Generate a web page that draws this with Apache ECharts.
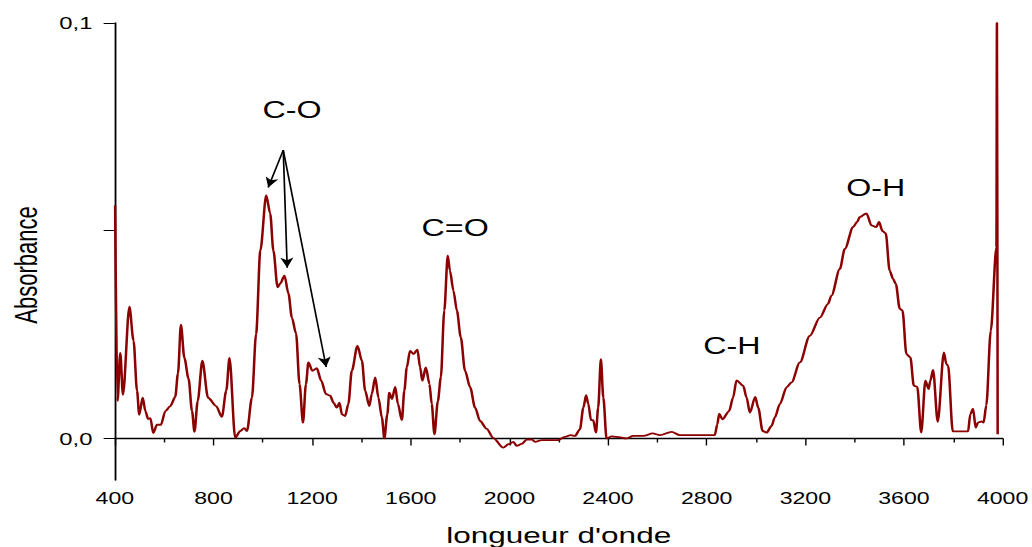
<!DOCTYPE html>
<html>
<head>
<meta charset="utf-8">
<script src="https://cdn.jsdelivr.net/npm/echarts@6/dist/echarts.min.js"></script>
<style>
  html, body { margin: 0; padding: 0; background: #fff; overflow: hidden; }
  /* the original picture is stretched horizontally, so the chart is drawn narrow and widened */
  #chart { position: absolute; left: 0; top: 0; width: 737px; height: 547px; transform: scaleX(1.40027); transform-origin: 0 0; }
</style>
</head>
<body>
<div id="chart"></div>
<script>
const wavenumber = [401,411,422,433,459,476,490,499,513,524,
  535,544,556,571,587,605,625,645,656,668,
  682,699,713,723,736,755,778,811,834,852,
  865,888,909,925,936,956,973,990,1014,1030,
  1043,1060,1071,1088,1104,1118,1135,1149,1163,1175,
  1185,1201,1219,1237,1256,1273,1287,1300,1311,1321,
  1334,1347,1361,1384,1402,1415,1432,1442,1456,1469,
  1483,1493,1505,1513,1524,1537,1548,1564,1574,1584,
  1597,1611,1627,1638,1647,1661,1676,1685,1696,1710,
  1722,1736,1750,1759,1773,1787,1803,1820,1841,1861,
  1881,1908,1935,1975,1996,2016,2030,2050,2070,2090,
  2104,2131,2198,2225,2249,2266,2286,2300,2311,2320,
  2331,2340,2351,2360,2371,2381,2394,2415,2435,2475,
  2502,2543,2581,2610,2658,2691,2833,2843,2851,2864,
  2891,2907,2921,2948,2962,2975,2997,3009,3027,3043,
  3063,3076,3097,3124,3144,3178,3218,3259,3292,3306,
  3340,3360,3394,3410,3421,3448,3468,3488,3499,3513,
  3526,3542,3556,3567,3583,3594,3610,3626,3640,3654,
  3670,3687,3700,3707,3718,3737,3762,3772,3779,3798,
  3860,3869,3880,3891,3900,3915,3923,3934,3952,3975,
  3977,3980];

const absorbance = [0.0561,0.0090,0.0206,0.0105,0.0317,0.0235,0.0115,0.0057,0.0098,0.0066,
  0.0047,0.0049,0.0013,0.0033,0.0033,0.0066,0.0078,0.0100,0.0156,0.0274,
  0.0194,0.0144,0.0066,0.0016,0.0090,0.0187,0.0098,0.0078,0.0052,0.0115,
  0.0194,0.0002,0.0018,0.0025,0.0018,0.0098,0.0252,0.0452,0.0585,0.0542,
  0.0452,0.0364,0.0373,0.0392,0.0349,0.0291,0.0252,0.0131,0.0038,0.0131,
  0.0183,0.0163,0.0169,0.0139,0.0107,0.0103,0.0086,0.0074,0.0086,0.0058,
  0.0054,0.0083,0.0163,0.0223,0.0187,0.0115,0.0078,0.0107,0.0147,0.0098,
  0.0050,0.0000,0.0058,0.0110,0.0095,0.0124,0.0083,0.0044,0.0115,0.0171,
  0.0211,0.0203,0.0214,0.0171,0.0139,0.0171,0.0131,0.0083,0.0010,0.0090,
  0.0147,0.0308,0.0440,0.0404,0.0356,0.0308,0.0243,0.0163,0.0123,0.0074,
  0.0042,0.0023,0.0001,-0.0022,-0.0014,-0.0008,-0.0018,-0.0013,-0.0003,-0.0002,
  -0.0008,-0.0004,-0.0004,0.0004,0.0008,0.0006,0.0022,0.0074,0.0104,0.0083,
  0.0044,0.0044,0.0014,0.0074,0.0191,0.0098,0.0000,0.0005,0.0004,0.0000,
  0.0006,0.0006,0.0012,0.0008,0.0016,0.0008,0.0008,0.0034,0.0060,0.0046,
  0.0066,0.0098,0.0140,0.0127,0.0098,0.0062,0.0100,0.0074,0.0018,0.0014,
  0.0030,0.0050,0.0083,0.0123,0.0135,0.0183,0.0247,0.0291,0.0324,0.0344,
  0.0408,0.0456,0.0509,0.0521,0.0533,0.0542,0.0513,0.0509,0.0521,0.0499,
  0.0494,0.0404,0.0384,0.0372,0.0312,0.0308,0.0203,0.0195,0.0127,0.0124,
  0.0014,0.0139,0.0119,0.0139,0.0165,0.0040,0.0207,0.0179,0.0175,0.0017,
  0.0017,0.0058,0.0072,0.0026,0.0038,0.0041,0.0038,0.0080,0.0259,0.0460,
  0.1000,0.0010];

// band labels, placed in data coordinates
const bandNames = ["C-O", "C=O", "C-H", "O-H"];
const bandX = [1119, 1780, 2902, 3486];
const bandY = [0.0790, 0.0505, 0.0221, 0.0602];

// arrows from the C-O label down to its three peaks
const arrowFrom = [1083, 0.0694];
const arrowToX = [1022, 1099, 1257];
const arrowToY = [0.0604, 0.0411, 0.0172];

const yTicks = [0, 0.05, 0.1];
const yLabels = [0, 0.1];

const chart = echarts.init(document.getElementById("chart"), null, { renderer: "svg" });

const font = "'Liberation Sans', Arial, sans-serif";

chart.setOption({
  animation: false,
  backgroundColor: "#fff",
  grid: {
    left: 82,
    right: 21,
    top: 23,
    bottom: 67,
    outerBoundsMode: "none"
  },
  xAxis: {
    type: "value",
    min: 400,
    max: 4000,
    interval: 400,
    name: "longueur d'onde",
    nameLocation: "middle",
    nameGap: 44,
    nameTextStyle: { color: "#000", fontSize: 22.5, fontFamily: font },
    axisLine: { lineStyle: { color: "#000", width: 1.3 } },
    axisTick: { length: 7, lineStyle: { color: "#000", width: 1 } },
    minorTick: { show: true, splitNumber: 2, length: 4, lineStyle: { color: "#000", width: 1 } },
    axisLabel: {
      color: "#000",
      fontSize: 16.5,
      fontFamily: font,
      margin: 10,
      showMinLabel: true,
      showMaxLabel: true,
      formatter: function (v) {
        return String(v);
      }
    },
    splitLine: { show: false }
  },
  yAxis: {
    type: "value",
    min: -0.01,
    max: 0.1,
    name: "Absorbance",
    nameLocation: "middle",
    nameGap: 52,
    nameTextStyle: { color: "#000", fontSize: 22, fontFamily: font, padding: [0, 27, 0, 0] },
    axisLine: { show: true, lineStyle: { color: "#000", width: 1.3 } },
    axisTick: { show: true, length: 8, customValues: yTicks, lineStyle: { color: "#000", width: 1 } },
    axisLabel: {
      color: "#000",
      fontSize: 17,
      fontFamily: font,
      margin: 16,
      customValues: yLabels,
      formatter: function (v) {
        return v.toFixed(1).replace(".", ",");
      }
    },
    splitLine: { show: false }
  },
  series: [
    {
      type: "line",
      data: wavenumber.map((x, i) => [x, absorbance[i]]),
      showSymbol: false,
      smooth: 0.3,
      smoothMonotone: "x",
      lineStyle: { color: "#8b0000", width: 1.8 },
      itemStyle: { color: "#8b0000" },
      markPoint: {
        silent: true,
        symbol: "circle",
        symbolSize: 0,
        itemStyle: { color: "transparent" },
        label: {
          show: true,
          position: "inside",
          color: "#000",
          fontSize: 23,
          fontFamily: font,
          formatter: "{b}"
        },
        data: bandNames.map((n, i) => ({ name: n, coord: [bandX[i], bandY[i]] }))
      },
      markLine: {
        silent: true,
        symbol: ["none", "arrow"],
        symbolSize: [7, 10],
        label: { show: false },
        lineStyle: { color: "#000", width: 1.2, type: "solid" },
        data: arrowToX.map((x, i) => [
          { coord: arrowFrom },
          { coord: [x, arrowToY[i]] }
        ])
      }
    }
  ]
});
</script>
</body>
</html>
